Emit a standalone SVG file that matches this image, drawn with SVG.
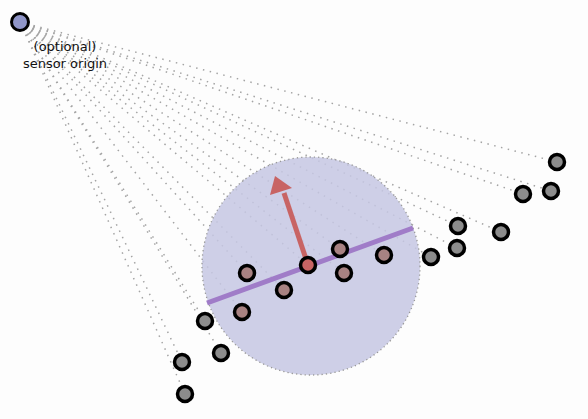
<svg xmlns="http://www.w3.org/2000/svg" width="588" height="419" viewBox="0 0 588 419">
<style>
.ray{stroke:#a4a4a4;stroke-width:1.5;stroke-dasharray:1.5 5.5;fill:none}
.pt{stroke:#000;stroke-width:3.5;fill:#8c8c8c}
.in{fill:#a88282}
.ctr{fill:#c86464}
text{font-family:"DejaVu Sans",sans-serif;font-size:13px;fill:#111;text-anchor:middle}
</style>
<rect width="588" height="419" fill="#fdfdfd"/>
<g id="connectors">
<line class="ray" x1="20" y1="22" x2="557" y2="162"/>
<line class="ray" x1="20" y1="22" x2="523" y2="194"/>
<line class="ray" x1="20" y1="22" x2="551" y2="191"/>
<line class="ray" x1="20" y1="22" x2="458" y2="226"/>
<line class="ray" x1="20" y1="22" x2="457" y2="248"/>
<line class="ray" x1="20" y1="22" x2="501" y2="232"/>
<line class="ray" x1="20" y1="22" x2="431" y2="257"/>
<line class="ray" x1="20" y1="22" x2="384" y2="255"/>
<line class="ray" x1="20" y1="22" x2="340" y2="249"/>
<line class="ray" x1="20" y1="22" x2="344" y2="273"/>
<line class="ray" x1="20" y1="22" x2="308" y2="265"/>
<line class="ray" x1="20" y1="22" x2="247" y2="273"/>
<line class="ray" x1="20" y1="22" x2="284" y2="290"/>
<line class="ray" x1="20" y1="22" x2="242" y2="312"/>
<line class="ray" x1="20" y1="22" x2="205" y2="321"/>
<line class="ray" x1="20" y1="22" x2="221" y2="353"/>
<line class="ray" x1="20" y1="22" x2="182" y2="362"/>
<line class="ray" x1="20" y1="22" x2="185" y2="394"/>
</g>
<g id="neighborhood">
<circle cx="311" cy="266" r="109" fill="#c5c7e3" fill-opacity="0.85" stroke="#999" stroke-width="1.3" stroke-dasharray="1.3 3"/>
</g>
<g id="plane">
<line x1="207" y1="303" x2="413" y2="228" stroke="#a07cc8" stroke-width="5"/>
</g>
<g id="normal">
<line x1="308" y1="265" x2="284" y2="193" stroke="#c86464" stroke-width="5"/>
<polygon points="275,176 270,195 292,188" fill="#c86464"/>
</g>
<g id="sensor">
<circle cx="20" cy="22" r="8.5" fill="#9096c8" stroke="#000" stroke-width="3"/>
<text x="65" y="51">(optional)</text>
<text x="65" y="68">sensor origin</text>
</g>
<g id="points">
<circle class="pt" cx="557" cy="162" r="7.5"/>
<circle class="pt" cx="523" cy="194" r="7.5"/>
<circle class="pt" cx="551" cy="191" r="7.5"/>
<circle class="pt" cx="458" cy="226" r="7.5"/>
<circle class="pt" cx="457" cy="248" r="7.5"/>
<circle class="pt" cx="501" cy="232" r="7.5"/>
<circle class="pt" cx="431" cy="257" r="7.5"/>
<circle class="pt in" cx="384" cy="255" r="7.5"/>
<circle class="pt in" cx="340" cy="249" r="7.5"/>
<circle class="pt in" cx="344" cy="273" r="7.5"/>
<circle class="pt in" cx="247" cy="273" r="7.5"/>
<circle class="pt in" cx="284" cy="290" r="7.5"/>
<circle class="pt in" cx="242" cy="312" r="7.5"/>
<circle class="pt" cx="205" cy="321" r="7.5"/>
<circle class="pt" cx="221" cy="353" r="7.5"/>
<circle class="pt" cx="182" cy="362" r="7.5"/>
<circle class="pt" cx="185" cy="394" r="7.5"/>
<circle class="pt ctr" cx="308" cy="265" r="7.5"/>
</g>
</svg>
